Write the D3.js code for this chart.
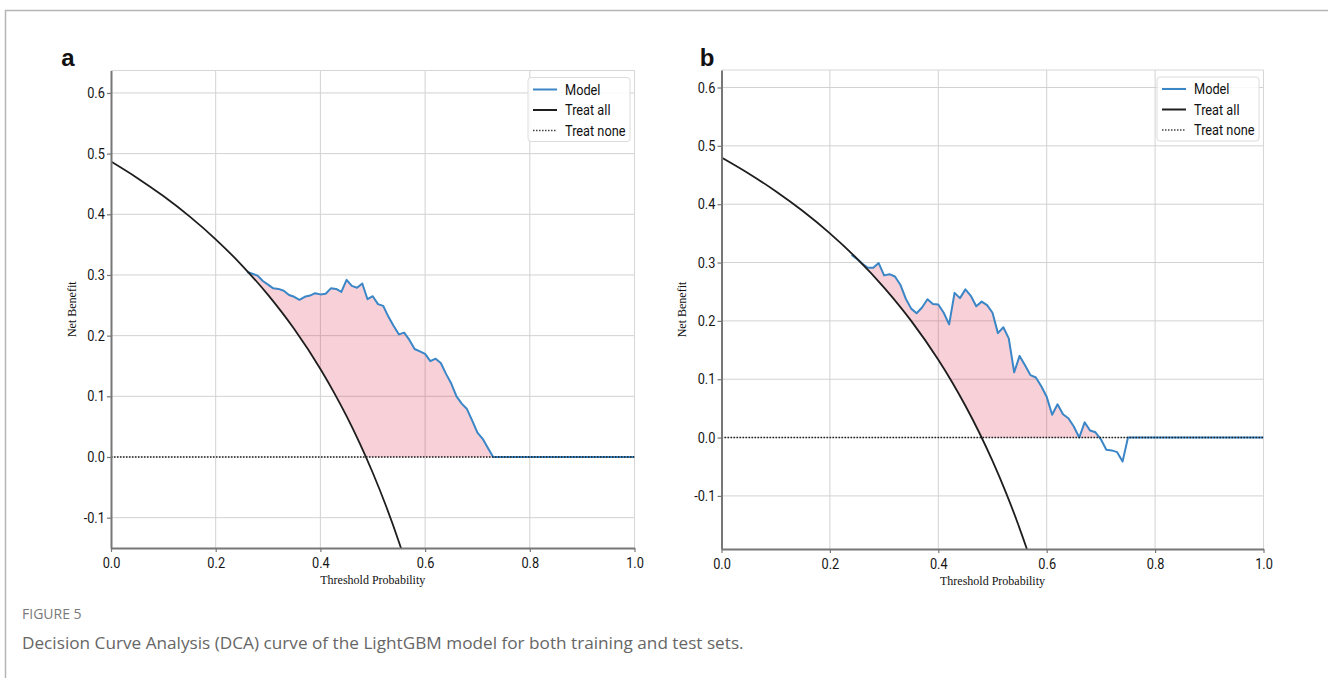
<!DOCTYPE html>
<html>
<head>
<meta charset="utf-8">
<script src="https://cdn.jsdelivr.net/npm/d3@7"></script>
<style>
  body { margin: 0; background: #fff; }
  svg { display: block; }
  .tick text { font-family: Roboto, "Open Sans", sans-serif; font-size: 14.5px; fill: #151515; }
</style>
</head>
<body>
<svg id="fig" width="1328" height="678"></svg>
<script>
// Tick values shared by both panels
const xTicks = [0, 0.2, 0.4, 0.6, 0.8, 1.0];
const yTicks = [-0.1, 0, 0.1, 0.2, 0.3, 0.4, 0.5, 0.6];

// "Treat all" strategy: net benefit at selected threshold probabilities
const treatAllThresh = [0, 0.05, 0.1, 0.15, 0.2, 0.25, 0.3, 0.35, 0.4, 0.425, 0.45, 0.475, 0.5, 0.525, 0.55, 0.575, 0.6];
const treatAllTrain = [0.487, 0.460, 0.430, 0.3965, 0.3588, 0.316, 0.2671, 0.2108, 0.145, 0.1078, 0.0673, 0.0229, -0.026, -0.080, -0.140, -0.207, -0.2825];
const treatAllTest  = [0.480, 0.4526, 0.4222, 0.3882, 0.350, 0.3067, 0.2571, 0.200, 0.1333, 0.0957, 0.0545, 0.0095, -0.040, -0.0947, -0.1556, -0.2235, -0.300];

// LightGBM model net benefit, training set
const modelThreshTrain = [0.26, 0.27, 0.28, 0.29, 0.30, 0.31, 0.32, 0.33, 0.34, 0.35,
  0.36, 0.37, 0.38, 0.39, 0.40, 0.41, 0.42, 0.43, 0.44, 0.45,
  0.46, 0.47, 0.48, 0.49, 0.50, 0.51, 0.52, 0.53, 0.54, 0.55,
  0.56, 0.57, 0.58, 0.59, 0.60, 0.61, 0.62, 0.63, 0.64, 0.65,
  0.66, 0.67, 0.68, 0.69, 0.70, 0.71, 0.72, 0.73, 1.0];
const modelTrain = [0.305, 0.302, 0.299, 0.290, 0.284, 0.278, 0.277, 0.274, 0.267, 0.264,
  0.259, 0.264, 0.266, 0.270, 0.268, 0.269, 0.278, 0.277, 0.272, 0.292,
  0.282, 0.279, 0.286, 0.260, 0.265, 0.252, 0.249, 0.231, 0.216, 0.202,
  0.205, 0.193, 0.178, 0.174, 0.170, 0.158, 0.162, 0.155, 0.137, 0.121,
  0.100, 0.088, 0.079, 0.060, 0.040, 0.030, 0.015, 0.000, 0.000];

// LightGBM model net benefit, test set
const modelThreshTest = [0.24, 0.25, 0.26, 0.27, 0.28, 0.29, 0.30, 0.31, 0.32, 0.33,
  0.34, 0.35, 0.36, 0.37, 0.38, 0.39, 0.40, 0.41, 0.42, 0.43,
  0.44, 0.45, 0.46, 0.47, 0.48, 0.49, 0.50, 0.51, 0.52, 0.53,
  0.54, 0.55, 0.56, 0.57, 0.58, 0.59, 0.60, 0.61, 0.62, 0.63,
  0.64, 0.65, 0.66, 0.67, 0.68, 0.69, 0.70, 0.71, 0.72, 0.73,
  0.74, 0.75, 1.0];
const modelTest = [0.313, 0.306, 0.298, 0.291, 0.291, 0.299, 0.278, 0.280, 0.276, 0.262,
  0.238, 0.221, 0.213, 0.223, 0.237, 0.229, 0.228, 0.214, 0.194, 0.248,
  0.239, 0.254, 0.243, 0.225, 0.233, 0.227, 0.214, 0.179, 0.189, 0.170,
  0.112, 0.140, 0.124, 0.107, 0.103, 0.088, 0.070, 0.039, 0.057, 0.040,
  0.033, 0.019, 0.000, 0.026, 0.012, 0.009, -0.003, -0.021, -0.022, -0.025,
  -0.041, 0.000, 0.000];

const legendLabels = ["Model", "Treat all", "Treat none"];
const panelLetters = ["a", "b"];
const xLabel = "Threshold Probability";
const yLabel = "Net Benefit";
const figureLabel = "FIGURE 5";
const captionText = "Decision Curve Analysis (DCA) curve of the LightGBM model for both training and test sets.";

const MODEL_COLOR = "#3a86c6";
const FILL_COLOR = "rgba(220, 20, 60, 0.2)";

const svg = d3.select("#fig");

// outer frame of the figure
svg.append("path")
  .attr("d", "M5.5,678 L5.5,10.5 L1328,10.5")
  .attr("fill", "none").attr("stroke", "#b5b5b5").attr("stroke-width", 1.5);

const panels = [
  { letter: panelLetters[0], left: 111, right: 634.5, top: 70.5, bottom: 548, yDomain: [-0.15, 0.637],
    treatAll: treatAllTrain, thresh: modelThreshTrain, model: modelTrain, letterX: 68, yLabelX: 76 },
  { letter: panelLetters[1], left: 721.5, right: 1263.5, top: 70, bottom: 549, yDomain: [-0.191, 0.63],
    treatAll: treatAllTest, thresh: modelThreshTest, model: modelTest, letterX: 707, yLabelX: 686 }
];

panels.forEach((p, i) => {
  const x = d3.scaleLinear().domain([0, 1]).range([p.left, p.right]);
  const y = d3.scaleLinear().domain(p.yDomain).range([p.bottom, p.top]);
  const g = svg.append("g");

  // clip to the plotting area
  const plotClip = "plot-clip-" + i;
  svg.append("clipPath").attr("id", plotClip)
    .append("rect").attr("x", p.left).attr("y", p.top)
    .attr("width", p.right - p.left).attr("height", p.bottom - p.top);

  // grid
  g.append("g").selectAll("line").data(xTicks.slice(1, -1)).join("line")
    .attr("x1", d => x(d)).attr("x2", d => x(d))
    .attr("y1", p.top).attr("y2", p.bottom)
    .attr("stroke", "#d2d2d2").attr("stroke-width", 1);
  g.append("g").selectAll("line").data(yTicks).join("line")
    .attr("x1", p.left).attr("x2", p.right)
    .attr("y1", d => y(d)).attr("y2", d => y(d))
    .attr("stroke", "#d2d2d2").attr("stroke-width", 1);

  // light frame on the top and right
  g.append("path")
    .attr("d", `M${p.left},${p.top} L${p.right},${p.top} L${p.right},${p.bottom}`)
    .attr("fill", "none").attr("stroke", "#d6d6d6").attr("stroke-width", 1);

  const taData = p.treatAll.map((v, k) => [treatAllThresh[k], v]);
  const mData = p.model.map((v, k) => [p.thresh[k], v]);

  // region above the treat-all curve, used to bound the shaded benefit area
  const aboveClip = "above-clip-" + i;
  const cp = svg.append("clipPath").attr("id", aboveClip);
  cp.append("path")
    .attr("d", d3.area().curve(d3.curveMonotoneX)
      .x(d => x(d[0])).y0(p.top - 10).y1(d => y(d[1]))(taData));
  cp.append("rect")
    .attr("x", x(treatAllThresh[treatAllThresh.length - 1]) - 0.5).attr("y", p.top - 10)
    .attr("width", p.right - x(treatAllThresh[treatAllThresh.length - 1]) + 10)
    .attr("height", p.bottom - p.top + 20);

  const inner = g.append("g").attr("clip-path", `url(#${plotClip})`);

  // shaded net benefit of the model over max(treat all, treat none)
  inner.append("path")
    .attr("clip-path", `url(#${aboveClip})`)
    .attr("d", d3.area()
      .x(d => x(d[0])).y0(y(0)).y1(d => y(Math.max(d[1], 0)))(mData))
    .attr("fill", FILL_COLOR);

  // model curve
  inner.append("path")
    .attr("d", d3.line().x(d => x(d[0])).y(d => y(d[1]))(mData))
    .attr("fill", "none").attr("stroke", MODEL_COLOR).attr("stroke-width", 2)
    .attr("stroke-linejoin", "round");

  // treat all
  inner.append("path")
    .attr("d", d3.line().curve(d3.curveMonotoneX).x(d => x(d[0])).y(d => y(d[1]))(taData))
    .attr("fill", "none").attr("stroke", "#1e1e1e").attr("stroke-width", 1.8);

  // treat none
  inner.append("line")
    .attr("x1", x(0)).attr("x2", x(1)).attr("y1", y(0)).attr("y2", y(0))
    .attr("stroke", "#222").attr("stroke-width", 1.5).attr("stroke-dasharray", "1.5,1.5");

  // axes
  const fmt = d => d.toFixed(1);
  const ax = g.append("g").attr("transform", `translate(${p.left},0)`)
    .call(d3.axisLeft(y).tickValues(yTicks).tickFormat(fmt).tickSize(4).tickSizeOuter(0).tickPadding(3));
  const bx = g.append("g").attr("transform", `translate(0,${p.bottom})`)
    .call(d3.axisBottom(x).tickValues(xTicks).tickFormat(fmt).tickSize(4).tickSizeOuter(0).tickPadding(6));
  [ax, bx].forEach(a => {
    a.select(".domain").attr("stroke", "#777").attr("stroke-width", 2);
    a.selectAll(".tick line").attr("stroke", "#777").attr("stroke-width", 1.2);
    // slightly condensed tick labels
    a.selectAll(".tick text").attr("transform", "scale(0.88,1)");
  });

  // axis titles
  g.append("text")
    .attr("x", (p.left + p.right) / 2).attr("y", p.bottom + 36)
    .attr("text-anchor", "middle")
    .attr("font-family", "'Liberation Serif', 'DejaVu Serif', serif").attr("font-size", 12)
    .attr("fill", "#111").text(xLabel);
  g.append("text")
    .attr("transform", `translate(${p.yLabelX},${(p.top + p.bottom) / 2}) rotate(-90)`)
    .attr("text-anchor", "middle")
    .attr("font-family", "'Liberation Serif', 'DejaVu Serif', serif").attr("font-size", 12)
    .attr("fill", "#111").text(yLabel);

  // panel letter
  svg.append("text")
    .attr("x", p.letterX).attr("y", 66).attr("text-anchor", "middle")
    .attr("font-family", "'Liberation Sans', Arial, sans-serif").attr("font-weight", "bold")
    .attr("font-size", 24).attr("fill", "#111").text(p.letter);

  // legend
  const lw = 102, lh = 64;
  const lx = p.right - lw - 4.5, ly = p.top + 7;
  const lg = g.append("g").attr("transform", `translate(${lx},${ly})`);
  lg.append("rect").attr("width", lw).attr("height", lh).attr("rx", 3)
    .attr("fill", "rgba(255,255,255,0.85)").attr("stroke", "#dcdcdc").attr("stroke-width", 1);
  const styles = [
    { stroke: MODEL_COLOR, dash: null, w: 2 },
    { stroke: "#1e1e1e", dash: null, w: 2 },
    { stroke: "#444", dash: "1.5,1.5", w: 1.4 }
  ];
  legendLabels.forEach((lab, k) => {
    const cy = 12 + k * 20.5;
    lg.append("line").attr("x1", 5).attr("x2", 29).attr("y1", cy).attr("y2", cy)
      .attr("stroke", styles[k].stroke).attr("stroke-width", styles[k].w)
      .attr("stroke-dasharray", styles[k].dash);
    lg.append("text").attr("transform", `translate(37,${cy + 5}) scale(0.88,1)`)
      .attr("font-family", "Roboto, 'Open Sans', sans-serif")
      .attr("font-size", 14.5).attr("fill", "#111").text(lab);
  });
});

// caption
svg.append("text").attr("x", 22).attr("y", 619)
  .attr("font-family", "'Open Sans', 'Noto Sans', sans-serif").attr("font-size", 14)
  .attr("fill", "#7a7a7a").text(figureLabel);
svg.append("text").attr("x", 22).attr("y", 649)
  .attr("font-family", "'Open Sans', 'Noto Sans', sans-serif").attr("font-size", 17.2)
  .attr("fill", "#666").text(captionText);
</script>
</body>
</html>
